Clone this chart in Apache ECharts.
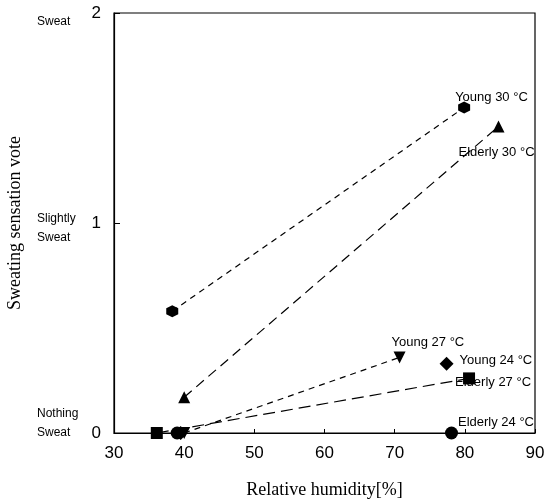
<!DOCTYPE html>
<html>
<head>
<meta charset="utf-8">
<script src="https://cdn.jsdelivr.net/npm/echarts@6/dist/echarts.min.js"></script>
<style>
  html, body { margin: 0; padding: 0; background: #fff; }
  #chart { width: 547px; height: 500px; }
</style>
</head>
<body>
<div id="chart"></div>
<script>
// 数据：相对湿度 [%] 与出汗感觉投票
const xTicks = [30, 40, 50, 60, 70, 80, 90];
const voteTicks = ["Nothing\nSweat", "Slightly\nSweat", "Sweat"]; // 0, 1, 2

const young30 = [[38.3, 0.58], [79.9, 1.55]];
const elderly30 = [[40.0, 0.17], [84.8, 1.46]];
const young27 = [[40.0, 0.0], [70.7, 0.36]];
const elderly27 = [[36.1, 0.0], [80.6, 0.26]];
const young24 = [[39.5, 0.0], [77.4, 0.33]];
const elderly24 = [[39.0, 0.0], [78.1, 0.0]];

const names = ["Young 30 °C", "Elderly 30 °C", "Young 27 °C", "Young 24 °C", "Elderly 27 °C", "Elderly 24 °C"];

const hexagon = "path://M0,-1L0.866,-0.5L0.866,0.5L0,1L-0.866,0.5L-0.866,-0.5Z";
const font = "Liberation Sans";

// 给最后一个点加名称标签
function withLabel(data, name, pos) {
  return data.map((d, i) => {
    if (i !== data.length - 1) return d;
    return {
      value: d,
      label: {
        show: true,
        formatter: name,
        position: pos,
        align: "left",
        verticalAlign: "middle",
        color: "#000",
        fontFamily: font,
        fontSize: 13,
      },
    };
  });
}

function lineSeries(name, data, symbol, dash, pos, rotate) {
  return {
    name,
    type: "line",
    data: withLabel(data, name, pos),
    symbol,
    symbolSize: 12,
    symbolRotate: rotate || 0,
    itemStyle: { color: "#000", opacity: 1 },
    lineStyle: { color: "#000", width: 1.2, type: dash },
    z: 3,
  };
}

function dotSeries(name, data, symbol, size, pos) {
  return {
    name,
    type: "scatter",
    data: withLabel(data, name, pos),
    symbol,
    symbolSize: size,
    itemStyle: { color: "#000", opacity: 1 },
    z: 4,
  };
}

const chart = echarts.init(document.getElementById("chart"));

const option = {
  backgroundColor: "#fff",
  animation: false,
  grid: {
    left: 114, right: 12, top: 13, bottom: 67,
    outerBoundsMode: "none",
    show: true, borderColor: "#000", borderWidth: 1.2,
  },
  xAxis: {
    type: "value",
    min: 30,
    max: 90,
    interval: 10,
    name: "Relative humidity[%]",
    nameLocation: "middle",
    nameGap: 48,
    nameTextStyle: { fontFamily: "Liberation Serif", fontSize: 18, color: "#000" },
    axisLine: { lineStyle: { color: "#000", width: 1.2 } },
    axisTick: { inside: true, length: 4, lineStyle: { color: "#000" } },
    axisLabel: {
      margin: 12,
      fontFamily: font,
      fontSize: 17,
      color: "#000",
      formatter: (v) => (xTicks.includes(v) ? String(v) : ""),
    },
    splitLine: { show: false },
  },
  yAxis: [
    {
      type: "value",
      min: 0,
      max: 2,
      interval: 1,
      name: "Sweating sensation vote",
      nameLocation: "middle",
      nameGap: 90,
      nameTextStyle: { fontFamily: "Liberation Serif", fontSize: 18, color: "#000" },
      axisLine: { lineStyle: { color: "#000", width: 1.2 } },
      axisTick: { inside: true, length: 6, lineStyle: { color: "#000" } },
      axisLabel: { margin: 13, fontFamily: font, fontSize: 17, color: "#000" },
      splitLine: { show: false },
    },
    {
      type: "value",
      position: "left",
      min: 0,
      max: 2,
      interval: 1,
      axisLine: { show: false },
      axisTick: { show: false },
      splitLine: { show: false },
      axisLabel: {
        margin: 77,
        align: "left",
        fontFamily: font,
        fontSize: 12,
        color: "#000",
        lineHeight: 19,
        formatter: (v) => {
          const t = voteTicks[v];
          if (v === 0) return "{n|" + t.replace("\n", "}\n{n|") + "}";
          if (v === 2) return "{s|" + t + "}";
          return "{m|" + t.replace("\n", "}\n{m|") + "}";
        },
        rich: {
          n: { fontFamily: font, fontSize: 12, lineHeight: 19, color: "#000", padding: [0, 0, 20, 0] },
          m: { fontFamily: font, fontSize: 12, lineHeight: 19, color: "#000", padding: [11, 0, 0, 0] },
          s: { fontFamily: font, fontSize: 12, color: "#000", padding: [18, 0, 0, 0] },
        },
      },
    },
  ],
  series: [
    lineSeries(names[0], young30, hexagon, [6, 5], [-3, -4]),
    lineSeries(names[1], elderly30, "triangle", [10, 6], [-34, 32]),
    lineSeries(names[2], young27, "triangle", [6, 5], [-2, -9], 180),
    dotSeries(names[3], young24, "diamond", 14, [20, 4]),
    lineSeries(names[4], elderly27, "rect", [12, 6], [-8, 10]),
    dotSeries(names[5], elderly24, "circle", 13, [13, -4]),
  ],
};

chart.setOption(option);
</script>
</body>
</html>
